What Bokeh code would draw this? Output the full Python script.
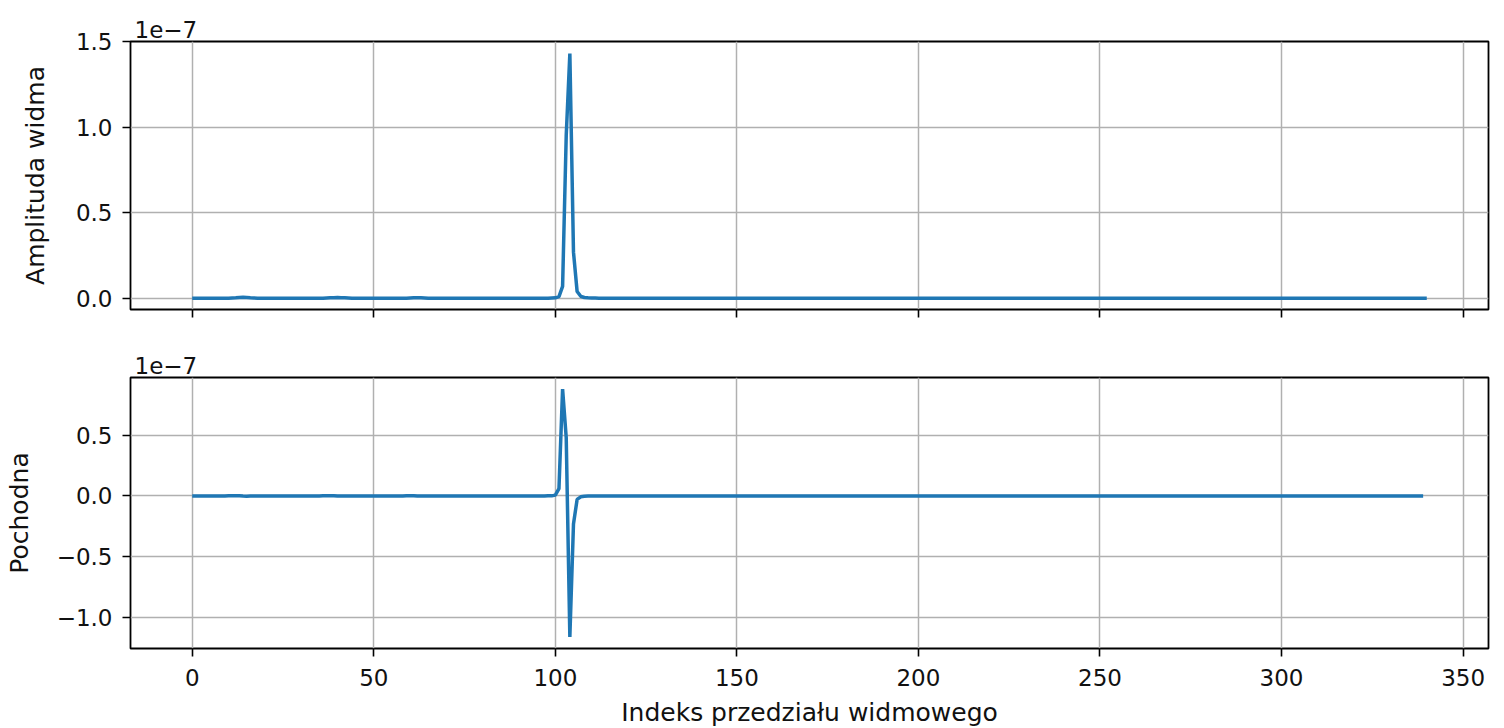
from bokeh.plotting import figure
from bokeh.layouts import column
from bokeh.models import FixedTicker, CustomJSTickFormatter, Range1d
from bokeh.embed import file_html
from bokeh.resources import INLINE

# values in units of 1e-7
amplitude = [
    0.001, 0.001, 0.001, 0.001, 0.001, 0.001, 0.001, 0.001, 0.001, 0.001,
    0.001, 0.002, 0.003, 0.005, 0.006, 0.005, 0.003, 0.002, 0.001, 0.001,
    0.001, 0.001, 0.001, 0.001, 0.001, 0.001, 0.001, 0.001, 0.001, 0.001,
    0.001, 0.001, 0.001, 0.001, 0.001, 0.001, 0.001, 0.002, 0.003, 0.004,
    0.005, 0.004, 0.003, 0.002, 0.001, 0.001, 0.001, 0.001, 0.001, 0.001,
    0.001, 0.001, 0.001, 0.001, 0.001, 0.001, 0.001, 0.001, 0.001, 0.001,
    0.002, 0.003, 0.004, 0.003, 0.002, 0.001, 0.001, 0.001, 0.001, 0.001,
    0.001, 0.001, 0.001, 0.001, 0.001, 0.001, 0.001, 0.001, 0.001, 0.001,
    0.001, 0.001, 0.001, 0.001, 0.001, 0.001, 0.001, 0.001, 0.001, 0.001,
    0.001, 0.001, 0.001, 0.001, 0.001, 0.001, 0.001, 0.001, 0.001, 0.002,
    0.003, 0.010, 0.070, 0.950, 1.430, 0.270, 0.040, 0.012, 0.005, 0.003,
    0.002, 0.002, 0.001, 0.001, 0.001, 0.001, 0.001, 0.001, 0.001, 0.001,
    0.001, 0.001, 0.001, 0.001, 0.001, 0.001, 0.001, 0.001, 0.001, 0.001,
    0.001, 0.001, 0.001, 0.001, 0.001, 0.001, 0.001, 0.001, 0.001, 0.001,
    0.001, 0.001, 0.001, 0.001, 0.001, 0.001, 0.001, 0.001, 0.001, 0.001,
    0.001, 0.001, 0.001, 0.001, 0.001, 0.001, 0.001, 0.001, 0.001, 0.001,
    0.001, 0.001, 0.001, 0.001, 0.001, 0.001, 0.001, 0.001, 0.001, 0.001,
    0.001, 0.001, 0.001, 0.001, 0.001, 0.001, 0.001, 0.001, 0.001, 0.001,
    0.001, 0.001, 0.001, 0.001, 0.001, 0.001, 0.001, 0.001, 0.001, 0.001,
    0.001, 0.001, 0.001, 0.001, 0.001, 0.001, 0.001, 0.001, 0.001, 0.001,
    0.001, 0.001, 0.001, 0.001, 0.001, 0.001, 0.001, 0.001, 0.001, 0.001,
    0.001, 0.001, 0.001, 0.001, 0.001, 0.001, 0.001, 0.001, 0.001, 0.001,
    0.001, 0.001, 0.001, 0.001, 0.001, 0.001, 0.001, 0.001, 0.001, 0.001,
    0.001, 0.001, 0.001, 0.001, 0.001, 0.001, 0.001, 0.001, 0.001, 0.001,
    0.001, 0.001, 0.001, 0.001, 0.001, 0.001, 0.001, 0.001, 0.001, 0.001,
    0.001, 0.001, 0.001, 0.001, 0.001, 0.001, 0.001, 0.001, 0.001, 0.001,
    0.001, 0.001, 0.001, 0.001, 0.001, 0.001, 0.001, 0.001, 0.001, 0.001,
    0.001, 0.001, 0.001, 0.001, 0.001, 0.001, 0.001, 0.001, 0.001, 0.001,
    0.001, 0.001, 0.001, 0.001, 0.001, 0.001, 0.001, 0.001, 0.001, 0.001,
    0.001, 0.001, 0.001, 0.001, 0.001, 0.001, 0.001, 0.001, 0.001, 0.001,
    0.001, 0.001, 0.001, 0.001, 0.001, 0.001, 0.001, 0.001, 0.001, 0.001,
    0.001, 0.001, 0.001, 0.001, 0.001, 0.001, 0.001, 0.001, 0.001, 0.001,
    0.001, 0.001, 0.001, 0.001, 0.001, 0.001, 0.001, 0.001, 0.001, 0.001,
    0.001, 0.001, 0.001, 0.001, 0.001, 0.001, 0.001, 0.001, 0.001, 0.001,
    0.001,
]

derivative = [
    0.000, 0.000, 0.000, 0.000, 0.000, 0.000, 0.000, 0.000, 0.000, 0.000,
    0.001, 0.001, 0.002, 0.001, -0.001, -0.002, -0.001, -0.001, 0.000, 0.000,
    0.000, 0.000, 0.000, 0.000, 0.000, 0.000, 0.000, 0.000, 0.000, 0.000,
    0.000, 0.000, 0.000, 0.000, 0.000, 0.000, 0.001, 0.001, 0.001, 0.001,
    -0.001, -0.001, -0.001, -0.001, 0.000, 0.000, 0.000, 0.000, 0.000, 0.000,
    0.000, 0.000, 0.000, 0.000, 0.000, 0.000, 0.000, 0.000, 0.000, 0.001,
    0.001, 0.001, -0.001, -0.001, -0.001, 0.000, 0.000, 0.000, 0.000, 0.000,
    0.000, 0.000, 0.000, 0.000, 0.000, 0.000, 0.000, 0.000, 0.000, 0.000,
    0.000, 0.000, 0.000, 0.000, 0.000, 0.000, 0.000, 0.000, 0.000, 0.000,
    0.000, 0.000, 0.000, 0.000, 0.000, 0.000, 0.000, 0.000, 0.001, 0.001,
    0.007, 0.060, 0.880, 0.480, -1.160, -0.230, -0.028, -0.007, -0.002, -0.001,
    0.000, -0.001, 0.000, 0.000, 0.000, 0.000, 0.000, 0.000, 0.000, 0.000,
    0.000, 0.000, 0.000, 0.000, 0.000, 0.000, 0.000, 0.000, 0.000, 0.000,
    0.000, 0.000, 0.000, 0.000, 0.000, 0.000, 0.000, 0.000, 0.000, 0.000,
    0.000, 0.000, 0.000, 0.000, 0.000, 0.000, 0.000, 0.000, 0.000, 0.000,
    0.000, 0.000, 0.000, 0.000, 0.000, 0.000, 0.000, 0.000, 0.000, 0.000,
    0.000, 0.000, 0.000, 0.000, 0.000, 0.000, 0.000, 0.000, 0.000, 0.000,
    0.000, 0.000, 0.000, 0.000, 0.000, 0.000, 0.000, 0.000, 0.000, 0.000,
    0.000, 0.000, 0.000, 0.000, 0.000, 0.000, 0.000, 0.000, 0.000, 0.000,
    0.000, 0.000, 0.000, 0.000, 0.000, 0.000, 0.000, 0.000, 0.000, 0.000,
    0.000, 0.000, 0.000, 0.000, 0.000, 0.000, 0.000, 0.000, 0.000, 0.000,
    0.000, 0.000, 0.000, 0.000, 0.000, 0.000, 0.000, 0.000, 0.000, 0.000,
    0.000, 0.000, 0.000, 0.000, 0.000, 0.000, 0.000, 0.000, 0.000, 0.000,
    0.000, 0.000, 0.000, 0.000, 0.000, 0.000, 0.000, 0.000, 0.000, 0.000,
    0.000, 0.000, 0.000, 0.000, 0.000, 0.000, 0.000, 0.000, 0.000, 0.000,
    0.000, 0.000, 0.000, 0.000, 0.000, 0.000, 0.000, 0.000, 0.000, 0.000,
    0.000, 0.000, 0.000, 0.000, 0.000, 0.000, 0.000, 0.000, 0.000, 0.000,
    0.000, 0.000, 0.000, 0.000, 0.000, 0.000, 0.000, 0.000, 0.000, 0.000,
    0.000, 0.000, 0.000, 0.000, 0.000, 0.000, 0.000, 0.000, 0.000, 0.000,
    0.000, 0.000, 0.000, 0.000, 0.000, 0.000, 0.000, 0.000, 0.000, 0.000,
    0.000, 0.000, 0.000, 0.000, 0.000, 0.000, 0.000, 0.000, 0.000, 0.000,
    0.000, 0.000, 0.000, 0.000, 0.000, 0.000, 0.000, 0.000, 0.000, 0.000,
    0.000, 0.000, 0.000, 0.000, 0.000, 0.000, 0.000, 0.000, 0.000, 0.000,
    0.000, 0.000, 0.000, 0.000, 0.000, 0.000, 0.000, 0.000, 0.000, 0.000,
]

x_ticks = [0, 50, 100, 150, 200, 250, 300, 350]
amp_ticks = [0.0, 0.5, 1.0, 1.5]
der_ticks = [-1.0, -0.5, 0.0, 0.5]
x_label = "Indeks przedziału widmowego"
amp_label = "Amplituda widma"
der_label = "Pochodna"
offset_text = "1e\u22127"

FONT = "DejaVu Sans"
LINE_COLOR = "#1f77b4"
TICK_SIZE = "23px"
LABEL_SIZE = "25px"

x_amp = list(range(len(amplitude)))
x_der = list(range(len(derivative)))

y_fmt = CustomJSTickFormatter(code="return tick.toFixed(1).replace('-', '\\u2212');")


def style(p, yticks, ylabel, ylabel_standoff):
    p.outline_line_color = "black"
    p.outline_line_width = 1.8
    p.outline_line_alpha = 1.0
    for ax in (p.xaxis[0], p.yaxis[0]):
        ax.axis_line_color = None
        ax.major_tick_line_color = "black"
        ax.major_tick_line_width = 1.6
        ax.major_tick_out = 8
        ax.major_tick_in = 0
        ax.minor_tick_line_color = None
        ax.major_label_text_font = FONT
        ax.major_label_text_font_size = TICK_SIZE
        ax.major_label_text_color = "#111111"
        ax.axis_label_text_font = FONT
        ax.axis_label_text_font_size = LABEL_SIZE
        ax.axis_label_text_font_style = "normal"
        ax.axis_label_text_color = "#111111"
    p.xaxis[0].ticker = FixedTicker(ticks=x_ticks)
    p.yaxis[0].ticker = FixedTicker(ticks=yticks)
    p.yaxis[0].formatter = y_fmt
    p.yaxis[0].major_label_standoff = 10
    p.yaxis[0].axis_label = ylabel
    p.yaxis[0].axis_label_standoff = ylabel_standoff
    p.grid.grid_line_color = "#b0b0b0"
    p.grid.grid_line_width = 1.5
    p.background_fill_color = "white"
    p.border_fill_color = "white"
    p.title.text = offset_text
    p.title.align = "left"
    p.title.text_font = FONT
    p.title.text_font_size = TICK_SIZE
    p.title.text_font_style = "normal"
    p.title.text_color = "#111111"
    p.title.offset = 4
    p.title.standoff = 7


p1 = figure(frame_width=1358, frame_height=268,
            x_range=Range1d(-17, 357), y_range=Range1d(-0.065, 1.5),
            output_backend="svg", toolbar_location=None,
            min_border_left=130, min_border_right=6,
            min_border_top=41, min_border_bottom=30)
style(p1, amp_ticks, amp_label, 23)
p1.xaxis[0].formatter = CustomJSTickFormatter(code="return '';")
p1.xaxis[0].major_label_standoff = 0
p1.line(x_amp, amplitude, line_color=LINE_COLOR, line_width=3.5)

p2 = figure(frame_width=1358, frame_height=271,
            x_range=p1.x_range, y_range=Range1d(-1.255, 0.975),
            output_backend="svg", toolbar_location=None,
            min_border_left=130, min_border_right=6,
            min_border_top=38, min_border_bottom=78)
style(p2, der_ticks, der_label, 20)
p2.xaxis[0].axis_label = x_label
p2.xaxis[0].major_label_standoff = 12
p2.xaxis[0].axis_label_standoff = 9
p2.line(x_der, derivative, line_color=LINE_COLOR, line_width=3.5)

layout = column(p1, p2, spacing=0)
open("out.html", "w").write(file_html(layout, INLINE))
